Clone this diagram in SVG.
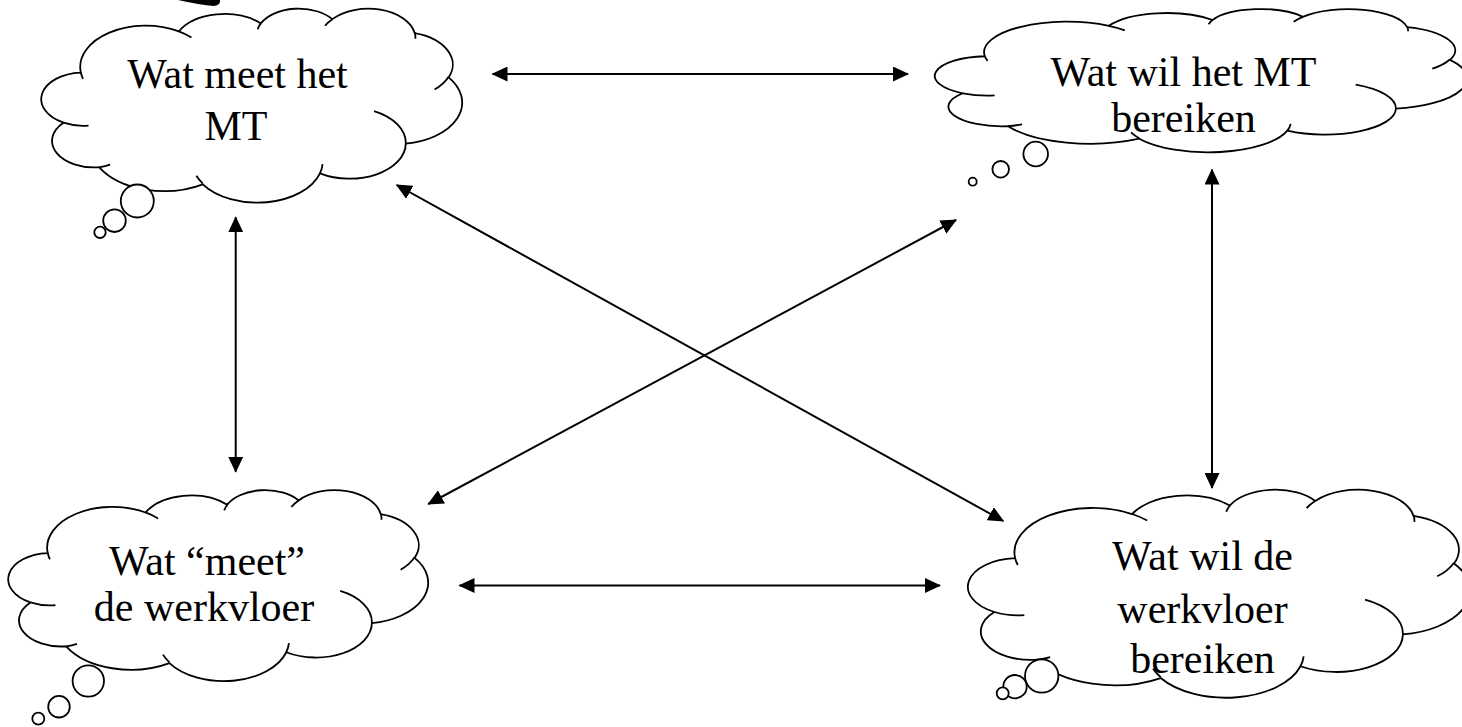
<svg xmlns="http://www.w3.org/2000/svg" xmlns:xlink="http://www.w3.org/1999/xlink" width="1462" height="727" viewBox="0 0 1462 727">
<style>
.cl{fill:#fff;stroke:#000;stroke-width:1.8;vector-effect:non-scaling-stroke;stroke-linejoin:round}
.dt{fill:none;stroke:#000;stroke-width:1.8;vector-effect:non-scaling-stroke}
.bb{fill:#fff;stroke:#000;stroke-width:1.8}
.lb{font-family:"Liberation Serif","Times New Roman",serif;font-size:42px;fill:#000;text-anchor:middle}
.ar{stroke:#000;stroke-width:2;fill:none;marker-start:url(#ah);marker-end:url(#ah)}
</style>
<defs>
<marker id="ah" viewBox="0 0 16 15" refX="15" refY="7.5" markerWidth="16" markerHeight="15" markerUnits="userSpaceOnUse" orient="auto-start-reverse"><path d="M0,0 L16,7.5 L0,15 Z" fill="#000"/></marker>
<g id="cloud">
<path class="cl" d="M3900,14370 A6753,9190 0 0 1 14004,5201 A5333,7267 0 0 1 22454,3431 A4365,5945 0 0 1 29831,2480 A4857,6595 0 0 1 38316,5575 A5333,7273 0 0 1 41816,15458 A6775,9220 0 0 1 37402,30201 A5785,7867 0 0 1 28553,36811 A6752,9215 0 0 1 16478,39262 A7720,10543 0 0 1 5802,35467 A4360,5918 0 0 1 2110,25544 A4345,5945 0 0 1 3900,14370 Z"/>
<path class="dt" d="M4693,26177 A4345,5945 0 0 1 2110,25544 M6928,34899 A4360,5918 0 0 1 5802,35467 M16478,39090 A6752,9215 0 0 1 15810,37349 M28827,34751 A6752,9215 0 0 1 28553,36811 M34129,22954 A5785,7867 0 0 1 37402,30201 M41798,15354 A5333,7273 0 0 1 40369,18133 M38324,5426 A4857,6595 0 0 1 38393,6839 M29078,3952 A4857,6595 0 0 1 29831,2480 M22141,4720 A4365,5945 0 0 1 22454,3431 M14000,5192 A6753,9190 0 0 1 15306,6552 M4127,15789 A6753,9190 0 0 1 3900,14370"/>
</g>
</defs>
<rect width="1462" height="727" fill="#fff"/>
<path d="M178,0 L220,0 Q221,5 214,6 Q200,5 178,0 Z" fill="#000"/>
<g id="connectors">
<line class="ar" x1="492.5" y1="74" x2="908" y2="74"/>
<line class="ar" x1="459.5" y1="585.5" x2="940" y2="585.5"/>
<line class="ar" x1="235.7" y1="217.3" x2="235.7" y2="471.7"/>
<line class="ar" x1="1212" y1="169.5" x2="1212" y2="488"/>
<line class="ar" x1="396.7" y1="185" x2="1003.3" y2="521"/>
<line class="ar" x1="428.3" y1="504" x2="956" y2="220"/>
</g>
<g id="node-mt-meet">
<use xlink:href="#cloud" href="#cloud" transform="translate(43 8) scale(0.0096991 0.0044907)"/>
<circle class="bb" cx="137.3" cy="201" r="16.5"/>
<circle class="bb" cx="114.5" cy="220.7" r="11.3"/>
<circle class="bb" cx="100" cy="232.3" r="5.7"/>
<text class="lb" x="237.5" y="88.3">Wat meet het</text>
<text class="lb" x="236" y="140">MT</text>
</g>
<g id="node-mt-bereiken">
<use xlink:href="#cloud" href="#cloud" transform="translate(937 8.6) scale(0.0122685 0.0033148)"/>
<circle class="bb" cx="1035.7" cy="154" r="12.3"/>
<circle class="bb" cx="1000.7" cy="169.3" r="8.3"/>
<circle class="bb" cx="972.7" cy="181.7" r="4"/>
<text class="lb" x="1183.5" y="86">Wat wil het MT</text>
<text class="lb" x="1183.5" y="132">bereiken</text>
</g>
<g id="node-werkvloer-meet">
<use xlink:href="#cloud" href="#cloud" transform="translate(10 489.5) scale(0.0096759 0.0044213)"/>
<circle class="bb" cx="88.3" cy="681" r="15.7"/>
<circle class="bb" cx="59" cy="706.7" r="10.8"/>
<circle class="bb" cx="38.3" cy="718.7" r="6"/>
<text class="lb" x="207" y="575">Wat “meet”</text>
<text class="lb" x="204" y="621">de werkvloer</text>
</g>
<g id="node-werkvloer-bereiken">
<use xlink:href="#cloud" href="#cloud" transform="translate(970 489) scale(0.0115741 0.0048148)"/>
<circle class="bb" cx="1041.7" cy="676" r="16.7"/>
<circle class="bb" cx="1015" cy="686.7" r="11.7"/>
<circle class="bb" cx="1002.7" cy="693.3" r="6"/>
<text class="lb" x="1202.5" y="570">Wat wil de</text>
<text class="lb" x="1202.5" y="623.3">werkvloer</text>
<text class="lb" x="1202.5" y="673.3">bereiken</text>
</g>
</svg>
